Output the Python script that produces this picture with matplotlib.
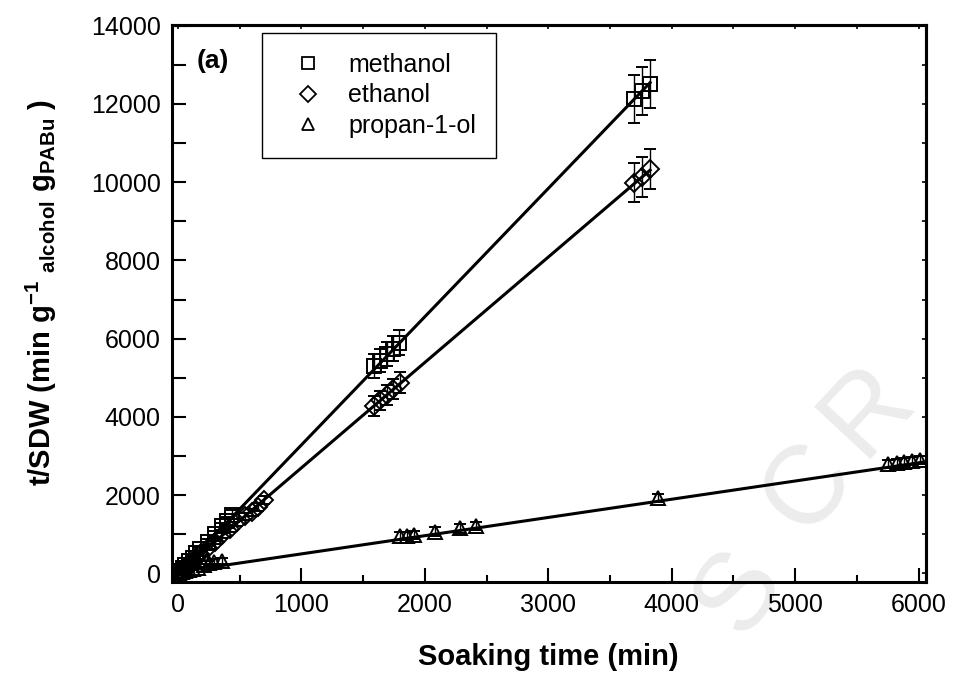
import matplotlib
matplotlib.use('Agg')
import matplotlib.pyplot as plt
from matplotlib.lines import Line2D
from matplotlib.ticker import MultipleLocator
import numpy as np

plt.rcParams['font.family'] = ['Liberation Sans', 'DejaVu Sans']
plt.rcParams['mathtext.fontset'] = 'custom'
plt.rcParams['mathtext.rm'] = 'Liberation Sans:bold'
plt.rcParams['mathtext.it'] = 'Liberation Sans:bold'
plt.rcParams['mathtext.bf'] = 'Liberation Sans:bold'

# soaking time (min) and t/SDW values
meth_t = [10, 20, 40, 60, 90, 120, 150, 180, 240, 300, 360, 400, 440,
          1590, 1640, 1690, 1745, 1795,
          3695, 3760, 3825]
meth_y = [40, 70, 140, 210, 310, 400, 510, 610, 800, 1000, 1200, 1340, 1500,
          5300, 5440, 5600, 5740, 5900,
          12130, 12335, 12514]
meth_err = [20, 30, 40, 40, 50, 50, 60, 60, 70, 80, 90, 100, 110,
            300, 300, 310, 320, 330,
            610, 620, 610]

eth_t = [10, 20, 40, 60, 90, 120, 150, 180, 240, 300, 360, 420, 480, 540, 600, 650, 700,
         1590, 1640, 1690, 1745, 1800,
         3695, 3760, 3825]
eth_y = [30, 55, 110, 165, 245, 325, 410, 490, 650, 810, 980, 1140, 1300, 1460, 1560, 1700, 1875,
         4280, 4420, 4560, 4720, 4870,
         9985, 10138, 10343]
eth_err = [20, 20, 30, 30, 40, 40, 50, 50, 60, 70, 70, 80, 80, 90, 90, 100, 100,
           250, 250, 260, 260, 270,
           500, 510, 510]

prop_t = [10, 30, 60, 90, 120, 160, 210, 250, 290, 360,
          1800, 1854, 1916, 2083, 2286, 2413,
          3890,
          5754, 5822, 5883, 5948, 6010]
prop_y = [15, 35, 60, 80, 110, 140, 200, 260, 300, 310,
          953, 960, 970, 1064, 1151, 1210,
          1930,
          2795, 2813, 2839, 2872, 2898]
prop_err = [10, 15, 20, 20, 30, 30, 40, 50, 60, 70,
            100, 100, 100, 110, 110, 110,
            100,
            110, 110, 110, 110, 110]

# linear fits (slope, intercept, end of line)
fit_meth = [3.28, 0, 3825]
fit_eth = [2.695, 0, 3825]
fit_prop = [0.466, 30, 6030]

labels = ['methanol', 'ethanol', 'propan-1-ol']

fig = plt.figure(figsize=(9.54, 6.75), dpi=100)
ax = fig.add_axes([0.180, 0.1382, 0.7903, 0.8248])
ax.set_facecolor('none')

# faint watermark letters behind the axes
wm_letters = ['S', 'C', 'R']
wm_x = [740, 808, 868]
wm_y = [592, 488, 410]
wm_rot = [57, 52, 47]
for ch, px, py, r in zip(wm_letters, wm_x, wm_y, wm_rot):
    fig.text(px / 954, 1 - py / 675, ch, fontsize=80, color='#ececec',
             rotation=r, ha='center', va='center', zorder=-5)

series = [(meth_t, meth_y, meth_err, 's', 10),
          (eth_t, eth_y, eth_err, 'D', 9),
          (prop_t, prop_y, prop_err, '^', 10)]
for t, y, e, m, ms in series:
    ax.errorbar(t, y, yerr=e, fmt=m, ms=ms, mfc='none', mec='k', mew=1.4,
                ecolor='k', elinewidth=1.0, capsize=4.5, capthick=1.0, zorder=3)

for slope, icpt, tend in [fit_meth, fit_eth, fit_prop]:
    xf = np.array([0, tend])
    ax.plot(xf, slope * xf + icpt, 'k-', lw=2.2, zorder=4)

ax.set_xlim(-50, 6057)
ax.set_ylim(-215, 14020)
ax.xaxis.set_major_locator(MultipleLocator(1000))
ax.xaxis.set_minor_locator(MultipleLocator(500))
ax.yaxis.set_major_locator(MultipleLocator(2000))
ax.yaxis.set_minor_locator(MultipleLocator(1000))
ax.tick_params(which='both', direction='in', width=1.5, labelsize=18, pad=8)
ax.tick_params(axis='x', which='major', length=10)
ax.tick_params(axis='x', which='minor', length=5)
ax.tick_params(axis='y', which='both', length=10)
for s in ax.spines.values():
    s.set_linewidth(2.2)

top = ax.secondary_xaxis('top')
top.xaxis.set_major_locator(MultipleLocator(500))
top.tick_params(direction='in', length=3, width=1.2, labeltop=False)
right = ax.secondary_yaxis('right')
right.yaxis.set_major_locator(MultipleLocator(1000))
right.tick_params(direction='in', length=3, width=1.2, labelright=False)
top.spines['top'].set_linewidth(2.2)
right.spines['right'].set_linewidth(2.2)

ax.set_xlabel('Soaking time (min)', fontsize=21, fontweight='bold', labelpad=19)
ax.set_ylabel(r't/SDW (min g$^{-1}$ $_{alcohol}$ g$_{PABu}$ )', fontsize=21,
              fontweight='bold')
ax.yaxis.set_label_coords(-0.149, 0.52)

ax.text(0.055, 0.935, '(a)', transform=ax.transAxes, fontsize=19,
        fontweight='bold', ha='center', va='center')

handles = [Line2D([], [], marker=m, ls='none', mfc='none', mec='k', ms=8, mew=1.3)
           for m in ['s', 'D', '^']]
leg = ax.legend(handles, labels, loc='upper left',
                bbox_to_anchor=(262 / 954, 1 - 33 / 675),
                bbox_transform=fig.transFigure, borderaxespad=0,
                fontsize=18, frameon=True, fancybox=False, framealpha=1,
                edgecolor='k', handlelength=2.08, handletextpad=0.56,
                labelspacing=0.25, borderpad=0.8)
leg.get_frame().set_linewidth(1.0)

plt.savefig('out.png', dpi=100)
